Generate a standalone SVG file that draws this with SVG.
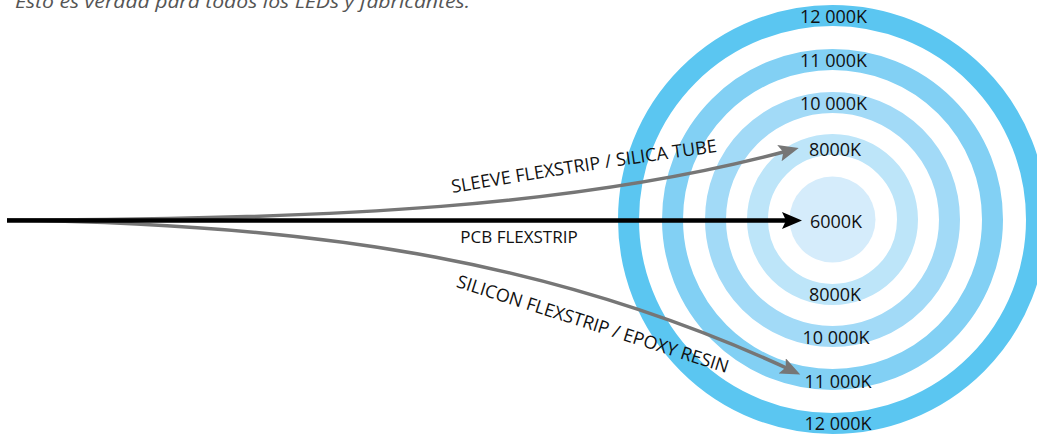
<svg xmlns="http://www.w3.org/2000/svg" width="1037" height="435" viewBox="0 0 1037 435">
<style>
  .lbl { font-family: "Open Sans", "Noto Sans", "Liberation Sans", sans-serif; font-size: 18px; fill: #111; text-anchor: middle; }
  .clbl { font-family: "Open Sans", "Noto Sans", "Liberation Sans", sans-serif; font-size: 17px; fill: #111; }
  .plbl { font-family: "Open Sans", "Noto Sans", "Liberation Sans", sans-serif; font-size: 18px; fill: #111; }
  .ring { fill: none; stroke-width: 21; }
  .gray { fill: none; stroke: #767676; stroke-width: 3.5; }
  .black { fill: none; stroke: #000; stroke-width: 4.5; }
  .note { font-family: "Open Sans", "Noto Sans", "Liberation Sans", sans-serif; font-style: italic; font-size: 18px; fill: #555; }
</style>
<defs>
  <marker id="ahBlack" markerUnits="userSpaceOnUse" markerWidth="22" markerHeight="18" refX="12" refY="8.5" orient="auto">
    <path d="M0,0 L20,8.5 L0,17 L4,8.5 Z" fill="#000"/>
  </marker>
  <marker id="ahGray" markerUnits="userSpaceOnUse" markerWidth="22" markerHeight="18" refX="12" refY="8.5" orient="auto">
    <path d="M0,0 L20,8.5 L0,17 L4,8.5 Z" fill="#767676"/>
  </marker>
  <path id="pUpper" d="M453,193 Q585,170 717,152"/>
  <path id="pLower" d="M453,286 L729,374"/>
</defs>
<rect width="1037" height="435" fill="#fff"/>
<text class="note" x="15" y="8" textLength="455" lengthAdjust="spacingAndGlyphs">Esto es verdad para todos los LEDs y fabricantes.</text>

<g id="ring-12000">
  <circle class="ring" cx="832.5" cy="219.5" r="204" stroke="#5bc6f1"/>
  <text class="lbl" x="833.5" y="23">12 000K</text>
  <text class="lbl" x="838" y="430">12 000K</text>
</g>
<g id="ring-11000">
  <circle class="ring" cx="832.5" cy="219.5" r="160" stroke="#82d0f4"/>
  <text class="lbl" x="833.5" y="66.5">11 000K</text>
  <text class="lbl" x="838" y="388">11 000K</text>
</g>
<g id="ring-10000">
  <circle class="ring" cx="832.5" cy="219.5" r="117" stroke="#a2daf7"/>
  <text class="lbl" x="833.5" y="110">10 000K</text>
  <text class="lbl" x="836" y="344">10 000K</text>
</g>
<g id="ring-8000">
  <circle class="ring" cx="832.5" cy="219.5" r="75" stroke="#bde5f9"/>
  <text class="lbl" x="835" y="156">8000K</text>
  <text class="lbl" x="835" y="301">8000K</text>
</g>
<g id="core-6000">
  <circle cx="832.5" cy="219.5" r="43" fill="#d5ecfb"/>
  <text class="lbl" x="836" y="227.5">6000K</text>
</g>

<g id="connectors">
  <path class="gray" d="M7,220 C330,220 580,207 791,150" marker-end="url(#ahGray)"/>
  <path class="gray" d="M7,220 C330,224 566,265 793,371" marker-end="url(#ahGray)"/>
  <path class="black" d="M7,220.5 H794" marker-end="url(#ahBlack)"/>
  <text class="plbl"><textPath href="#pUpper" startOffset="50%" text-anchor="middle">SLEEVE FLEXSTRIP / SILICA TUBE</textPath></text>
  <text class="plbl"><textPath href="#pLower" startOffset="50%" text-anchor="middle">SILICON FLEXSTRIP / EPOXY RESIN</textPath></text>
  <text class="clbl" x="519" y="243" text-anchor="middle">PCB FLEXSTRIP</text>
</g>
</svg>
